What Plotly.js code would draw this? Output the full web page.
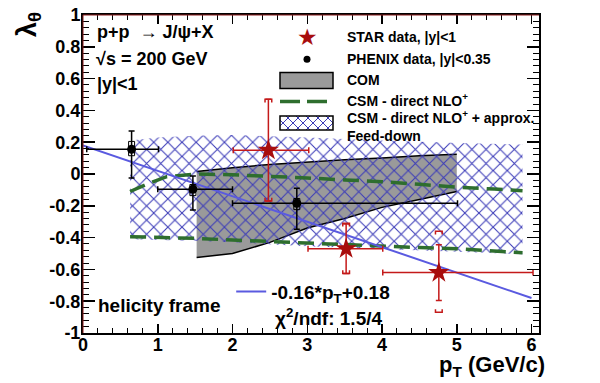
<!DOCTYPE html>
<html><head><meta charset="utf-8">
<script src="https://cdn.plot.ly/plotly-3.0.1.min.js"></script>
<style>html,body{margin:0;padding:0;background:#fff}#chart{width:600px;height:383px}</style>
</head><body><div id="chart"></div>
<script>
// ---- STAR data ----
const starX = [2.48, 3.52, 4.76];
const starY = [0.15, -0.47, -0.62];
const starXErrLow = [0.47, 0.51, 0.75];
const starXErrHigh = [0.54, 0.49, 1.26];
const starYErr = [0.32, 0.155, 0.175];
const starSysUp = [0.32, 0.16, 0.26];
const starSysDown = [0.32, 0.155, 0.25];
// ---- PHENIX data ----
const phenixX = [0.65, 1.47, 2.86];
const phenixY = [0.155, -0.096, -0.184];
const phenixXErrLow = [0.6, 0.47, 0.86];
const phenixXErrHigh = [0.36, 0.53, 2.15];
const phenixYErrUp = [0.115, 0.083, 0.094];
const phenixYErrDown = [0.18, 0.13, 0.164];
const phenixSysUp = [0.05, 0.03, 0.03];
const phenixSysDown = [0.04, 0.04, 0.04];
// ---- COM band ----
const comX = [1.52, 2.0, 2.5, 3.0, 3.5, 4.0, 4.5, 5.0];
const comUpper = [0.015, 0.04, 0.06, 0.075, 0.09, 0.10, 0.115, 0.125];
const comLower = [-0.525, -0.50, -0.43, -0.34, -0.28, -0.21, -0.16, -0.11];
// ---- CSM direct NLO+ ----
const csmX = [0.63, 0.9, 1.12, 1.5, 2.0, 2.5, 3.0, 3.5, 4.0, 4.5, 5.0, 5.5, 5.88];
const csmUpper = [-0.11, -0.055, -0.017, 0.0, -0.005, -0.013, -0.025, -0.037, -0.048, -0.065, -0.083, -0.095, -0.105];
const csmLower = [-0.394, -0.397, -0.40, -0.405, -0.415, -0.425, -0.435, -0.447, -0.457, -0.463, -0.47, -0.482, -0.495];
// ---- Feed-down band ----
const fdX = [0.63, 1.0, 1.5, 2.0, 3.0, 4.0, 5.0, 5.88];
const fdUpper = [0.21, 0.23, 0.24, 0.245, 0.23, 0.21, 0.195, 0.185];
const fdLower = [-0.41, -0.415, -0.42, -0.43, -0.455, -0.475, -0.49, -0.505];
// ---- Linear fit ----
const fitX = [0, 6];
const fitY = [0.18, -0.78];
// ---- Axis ticks ----
const yTickVals = [-1, -0.8, -0.6, -0.4, -0.2, 0, 0.2, 0.4, 0.6, 0.8, 1];
const yTickText = ['-1', '-0.8', '-0.6', '-0.4', '-0.2', '0', '0.2', '0.4', '0.6', '0.8', '1'];
const xTickVals = [0, 1, 2, 3, 4, 5, 6];
const xTickText = ['0', '1', '2', '3', '4', '5', '6'];
// ---- Legend labels ----
const legendLabels = ['STAR data, |y|<1', 'PHENIX data, |y|<0.35', 'COM',
  'CSM - direct NLO<sup>+</sup>', 'CSM - direct NLO<sup>+</sup> + approx.<br>Feed-down'];

const FONT = 'Liberation Sans, Arial, Helvetica, sans-serif';
const STAR_RED = '#a80d0d';
const ERR_RED = '#c41a1a';
const GREEN = '#2e6e2e';
const HATCH = '#3c3cb8';
const GRAY = '#9a9a9a';

// plot-area pixel geometry (for legend placement in paper units)
const PL = 83, PR = 539, PT = 15, PB = 333;
const px2x = p => (p - PL) / (PR - PL);
const px2y = p => (PB - p) / (PB - PT);

// PHENIX systematic boxes
const pbX = [], pbY = [];
phenixX.forEach((x, i) => {
  const hw = 0.04, y0 = phenixY[i] - phenixSysDown[i], y1 = phenixY[i] + phenixSysUp[i];
  pbX.push(x - hw, x + hw, x + hw, x - hw, x - hw, null);
  pbY.push(y0, y0, y1, y1, y0, null);
});
// STAR systematic brackets
const sbX = [], sbY = [];
starX.forEach((x, i) => {
  const hw = 0.045, tk = 0.02, yt = starY[i] + starSysUp[i], yb = starY[i] - starSysDown[i];
  sbX.push(x - hw, x - hw, x + hw, x + hw, null, x - hw, x - hw, x + hw, x + hw, null);
  sbY.push(yt - tk, yt, yt, yt - tk, null, yb + tk, yb, yb, yb + tk, null);
});

const traces = [
  { x: comX, y: comLower, mode: 'lines', line: {color: '#000', width: 1.5}, showlegend: false, hoverinfo: 'skip' },
  { x: comX, y: comUpper, mode: 'lines', fill: 'tonexty', fillcolor: GRAY,
    line: {color: '#000', width: 1.5}, name: 'COM', showlegend: false },
  { x: fdX.concat(fdX.slice().reverse()), y: fdUpper.concat(fdLower.slice().reverse()),
    mode: 'lines', fill: 'toself', fillcolor: 'rgba(0,0,0,0)',
    fillpattern: {shape: 'x', fgcolor: HATCH, bgcolor: 'rgba(0,0,0,0)', size: 10, solidity: 0.2},
    line: {width: 0, color: 'rgba(0,0,0,0)'}, name: 'Feed-down', showlegend: false },
  { x: csmX.concat([null], csmX), y: csmUpper.concat([null], csmLower),
    mode: 'lines', line: {color: GREEN, width: 3.5, dash: '16px,8px'},
    connectgaps: false, name: 'CSM - direct NLO+', showlegend: false },
  { x: fitX, y: fitY, mode: 'lines', line: {color: '#5a5ae0', width: 2},
    name: '-0.16*p<sub>T</sub>+0.18', legend: 'legend2', showlegend: true },
  { x: pbX, y: pbY, mode: 'lines', line: {color: '#000', width: 1}, showlegend: false, hoverinfo: 'skip' },
  { x: sbX, y: sbY, mode: 'lines', line: {color: ERR_RED, width: 1.5}, showlegend: false, hoverinfo: 'skip' },
  { x: phenixX, y: phenixY, mode: 'markers', name: 'PHENIX data', showlegend: false,
    marker: {symbol: 'circle', size: 9, color: '#000'},
    error_x: {type: 'data', symmetric: false, array: phenixXErrHigh, arrayminus: phenixXErrLow, color: '#000', thickness: 1.5, width: 3},
    error_y: {type: 'data', symmetric: false, array: phenixYErrUp, arrayminus: phenixYErrDown, color: '#000', thickness: 1.5, width: 3} },
  { x: starX, y: starY, mode: 'markers', name: 'STAR data', showlegend: false,
    marker: {symbol: 'star', size: 16, color: STAR_RED},
    error_x: {type: 'data', symmetric: false, array: starXErrHigh, arrayminus: starXErrLow, color: ERR_RED, thickness: 1.5, width: 3},
    error_y: {type: 'data', array: starYErr, color: ERR_RED, thickness: 1.5, width: 3} }
];

const txt = (text, x, y, size, extra) => Object.assign({
  text: text, xref: 'paper', yref: 'paper', x: x, y: y, xanchor: 'left', yanchor: 'middle', align: 'left',
  showarrow: false, font: {family: FONT, size: size, color: '#000', weight: 'bold'}
}, extra || {});

// ---- manual legend (upper right) ----
const legTextX = px2x(345);
const legRowY = [37, 59, 80, 100, 126];
const annotations = legendLabels.map((t, i) => txt(t, legTextX, px2y(legRowY[i]), 14));
annotations.push(txt('\u2605', px2x(307), px2y(37), 23,
  {xanchor: 'center', font: {family: 'DejaVu Sans', size: 23, color: STAR_RED}}));

const shapes = [];
const pbox = (x0, y0, x1, y1) => ({xref: 'paper', yref: 'paper', x0: px2x(x0), x1: px2x(x1), y0: px2y(y1), y1: px2y(y0)});
// PHENIX dot
shapes.push(Object.assign({type: 'circle', fillcolor: '#000', line: {width: 0}}, pbox(303.5, 55.8, 310.5, 62.8)));
// COM box
shapes.push(Object.assign({type: 'rect', fillcolor: GRAY, line: {color: '#000', width: 1.5}}, pbox(280, 72.5, 333, 88.5)));
// CSM dashed line
shapes.push({type: 'line', xref: 'paper', yref: 'paper', x0: px2x(280), x1: px2x(333), y0: px2y(101.5), y1: px2y(101.5),
  line: {color: GREEN, width: 3.5, dash: '20px,7px'}});
// Feed-down hatched box
(function () {
  const x0 = 280, x1 = 333, y0 = 116, y1 = 130, step = 10;
  let path = '';
  const seg = (ax, ay, bx, by) => { path += 'M' + px2x(ax) + ',' + px2y(ay) + 'L' + px2x(bx) + ',' + px2y(by); };
  for (let c = x0 - y1; c <= x1 - y0; c += step) {
    const xa = Math.max(x0, y0 + c), xb = Math.min(x1, y1 + c);
    if (xb > xa) seg(xa, xa - c, xb, xb - c);
  }
  for (let d = x0 + y0; d <= x1 + y1; d += step) {
    const xa = Math.max(x0, d - y1), xb = Math.min(x1, d - y0);
    if (xb > xa) seg(xa, d - xa, xb, d - xb);
  }
  shapes.push({type: 'path', xref: 'paper', yref: 'paper', path: path, line: {color: HATCH, width: 1}});
  shapes.push(Object.assign({type: 'rect', fillcolor: 'rgba(0,0,0,0)', line: {color: '#000', width: 1.5}}, pbox(x0, y0, x1, y1)));
})();
// frame colour accents (left / top)
shapes.push({type: 'line', xref: 'paper', yref: 'paper', x0: 0, x1: 0, y0: 0, y1: 1, line: {color: '#8b1a1a', width: 1}});
shapes.push({type: 'line', xref: 'paper', yref: 'paper', x0: 0, x1: 1, y0: 1, y1: 1, line: {color: '#8b1a1a', width: 1}});

annotations.push(
  txt('p+p  \u2192 J/\u03c8+X', 0.026, 0.948, 18),
  txt('\u221as = 200 GeV', 0.024, 0.862, 18),
  txt('|y|<1', 0.026, 0.783, 18),
  txt('helicity frame', 0.029, 0.088, 19),
  txt('\u03c7<sup>2</sup>/ndf: 1.5/4', 0.416, 0.051, 19),
  txt('p<sub>T</sub> (GeV/c)', 1.018, -0.105, 22, {xanchor: 'right'}),
  txt('\u03bb<sub>\u03b8</sub>', -0.12, 1.015, 27, {textangle: -90, xanchor: 'center', yanchor: 'top'})
);

const layout = {
  width: 600, height: 383,
  margin: {l: PL, r: 600 - PR, t: PT, b: 383 - PB},
  paper_bgcolor: '#fff', plot_bgcolor: '#fff',
  font: {family: FONT, color: '#000'},
  xaxis: {
    range: [0, 6.1], showgrid: false, zeroline: false,
    showline: true, linecolor: '#000', linewidth: 2, mirror: 'ticks',
    ticks: 'inside', ticklen: 9, tickwidth: 1.5, tickcolor: '#000',
    tickvals: xTickVals, ticktext: xTickText, ticklabelstandoff: -6,
    tickfont: {family: FONT, size: 18, weight: 'bold'},
    minor: {dtick: 0.2, ticklen: 5, tickwidth: 1, ticks: 'inside', tickcolor: '#000'}
  },
  yaxis: {
    range: [-1, 1], showgrid: false, zeroline: false,
    showline: true, linecolor: '#000', linewidth: 2, mirror: 'ticks',
    ticks: 'inside', ticklen: 12, tickwidth: 1.5, tickcolor: '#000',
    tickvals: yTickVals, ticktext: yTickText, ticklabelstandoff: -3,
    tickfont: {family: FONT, size: 18, weight: 'bold'},
    minor: {dtick: 0.04, ticklen: 6, tickwidth: 1, ticks: 'inside', tickcolor: '#000'}
  },
  showlegend: true,
  legend2: {
    x: 0.325, y: 0.19, xanchor: 'left', yanchor: 'top',
    bgcolor: 'rgba(0,0,0,0)', borderwidth: 0, itemwidth: 30,
    font: {family: FONT, size: 19, weight: 'bold', color: '#000'}
  },
  annotations: annotations,
  shapes: shapes
};

Plotly.newPlot('chart', traces, layout, {staticPlot: true, displayModeBar: false});
</script>
</body></html>
